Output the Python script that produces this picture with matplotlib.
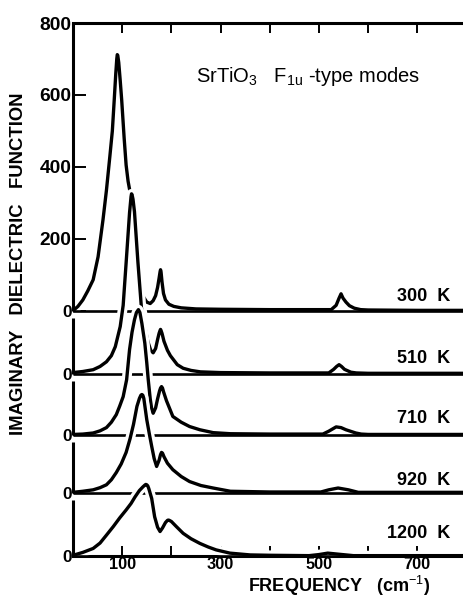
import matplotlib
matplotlib.use("Agg")
import matplotlib.pyplot as plt

plt.rcParams['font.family'] = ['Liberation Sans', 'DejaVu Sans']
plt.rcParams['mathtext.fontset'] = 'custom'
plt.rcParams['mathtext.rm'] = 'Liberation Sans'
plt.rcParams['mathtext.it'] = 'Liberation Sans:italic'
plt.rcParams['mathtext.bf'] = 'Liberation Sans:bold'

# spectra: frequency (cm-1) vs imaginary dielectric function
temps = ['300  K', '510  K', '710  K', '920  K', '1200  K']

freq_300 = [0, 10, 20, 30, 41, 51, 61, 68, 75, 80, 84, 87, 89, 90, 91, 93, 96, 99, 104, 108, 112, 116,
            120, 125, 130, 135, 139, 143, 150, 157, 163, 168, 172, 175, 177, 178, 179, 181, 184, 188, 195,
            205, 220, 250, 300, 400, 500, 525, 535, 541, 545, 549, 555, 562, 572, 585, 600, 700, 800]
eps_300 = [0, 12, 30, 55, 86, 150, 253, 335, 430, 500, 590, 660, 700, 712, 710, 690, 640, 586, 480, 405, 360, 330,
           275, 200, 125, 70, 48, 39, 24, 20, 28, 42, 65, 90, 108, 114, 108, 80, 48, 30, 18,
           12, 8, 5, 4, 3, 3, 3, 15, 35, 47, 35, 24, 14, 7, 3, 2, 1, 1]

freq_510 = [0, 20, 41, 55, 68, 78, 86, 96, 102, 108, 115, 118, 119, 120, 122, 125, 132, 139, 146, 152, 158,
            163, 168, 172, 175, 177, 178, 179, 181, 185, 192, 198, 212, 224, 240, 259, 300, 400, 500, 520,
            530, 536, 541, 546, 552, 565, 576, 600, 700, 800]
eps_510 = [3, 6, 11, 20, 33, 50, 75, 131, 190, 308, 448, 492, 500, 498, 485, 450, 310, 185, 130, 90, 65,
           58, 70, 95, 112, 120, 123, 120, 112, 90, 65, 50, 25, 15, 9, 5, 3, 2, 2, 2,
           12, 20, 25, 20, 12, 4, 2, 1, 1, 1]

freq_710 = [0, 20, 41, 55, 68, 78, 88, 95, 102, 109, 115, 120, 125, 129, 133, 136, 140, 146, 150,
            153, 157, 160, 163, 168, 172, 176, 178, 180, 182, 184, 190, 203, 220, 237, 258, 285, 320, 400,
            500, 508, 520, 535, 545, 555, 575, 586, 600, 700, 800]
eps_710 = [1, 2, 5, 11, 20, 35, 56, 80, 106, 153, 237, 285, 320, 340, 348, 340, 310, 255, 200,
           153, 100, 72, 60, 75, 100, 122, 130, 134, 130, 120, 95, 51, 35, 23, 14, 6, 3, 2,
           2, 2, 10, 22, 20, 14, 5, 2, 1, 1, 1]

freq_920 = [0, 20, 41, 55, 68, 78, 88, 98, 108, 116, 123, 130, 135, 138, 140, 142, 144, 150, 155, 160, 165,
            170, 175, 178, 180, 182, 185, 192, 203, 220, 237, 260, 285, 320, 400, 500, 504, 520, 539, 560,
            580, 600, 700, 800]
eps_920 = [1, 4, 8, 14, 22, 36, 56, 80, 112, 150, 190, 240, 262, 271, 273, 271, 262, 203, 165, 129, 95,
           73, 90, 106, 112, 110, 100, 82, 64, 45, 31, 20, 13, 4, 2, 2, 2, 8, 13, 8,
           1, 1, 1, 1]

freq_1200 = [0, 20, 41, 55, 68, 82, 95, 108, 118, 126, 135, 142, 146, 148, 150, 152, 154, 160, 166, 172, 177,
             182, 188, 192, 194, 196, 200, 210, 224, 240, 258, 275, 291, 319, 360, 400, 480, 500, 518, 540,
             570, 600, 700, 800]
eps_1200 = [2, 10, 21, 36, 58, 82, 106, 128, 146, 164, 182, 192, 197, 199, 198, 195, 188, 160, 109, 80, 68,
            78, 93, 99, 100, 99, 96, 82, 63, 48, 35, 25, 17, 8, 3, 2, 1, 4, 8, 5,
            1, 1, 1, 1]

freqs = [freq_300, freq_510, freq_710, freq_920, freq_1200]
eps = [eps_300, eps_510, eps_710, eps_920, eps_1200]

# layout of the stack (vertical shift of each trace, in units of the top scale)
offsets = [0, -175, -345, -506, -682]
label_lift = [17, 19, 22, 10, 38]

fig = plt.figure(figsize=(4.64, 6.04), dpi=100)
ax = fig.add_axes([73 / 464, 1 - 556 / 604, 1 - 73 / 464, (556 - 23) / 604])
ax.set_xlim(0, 795)
ax.set_ylim(offsets[-1], 800)

for i, (f, e) in enumerate(zip(freqs, eps)):
    off = offsets[i]
    z = 3 + 3 * i
    y = [v + off for v in e]
    # white margin round each trace breaks the lines behind it, as in the print
    ax.plot(f, y, color='white', lw=7, zorder=z, solid_capstyle='butt')
    ax.hlines(off, 0, 800, color='black', lw=1.9, zorder=z + 1)
    ax.plot(f, y, color='black', lw=2.4, zorder=z + 2, solid_joinstyle='round')
    ax.text(767, off + label_lift[i], temps[i], ha='right', va='bottom',
            fontsize=13, fontweight='bold', zorder=30)

# broken left axis: one segment per trace
ax.vlines(0, 0, 800, color='black', lw=2.2, zorder=40, clip_on=False)
for i in range(1, len(offsets)):
    top = offsets[i - 1] - offsets[i] - 20
    ax.vlines(0, offsets[i], offsets[i] + top, color='black', lw=2.2, zorder=40, clip_on=False)

for s in ['left', 'right']:
    ax.spines[s].set_visible(False)
ax.spines['top'].set_linewidth(2.2)
ax.spines['bottom'].set_linewidth(2.2)

ax.set_xticks(range(100, 800, 100), ['100', '', '300', '', '500', '', '700'])
ax.tick_params(axis='x', direction='in', length=7, width=1.4, top=True, bottom=True,
               labelsize=11.8, pad=1)

yt = offsets[::-1] + [200, 400, 600, 800]
yl = ['0'] * len(offsets) + ['200', '400', '600', '800']
ax.set_yticks(yt, yl)
ax.tick_params(axis='y', direction='in', length=9, width=1.4, left=True, right=False,
               labelsize=13.8, pad=1)
for lbl in ax.get_xticklabels() + ax.get_yticklabels():
    lbl.set_fontweight('bold')
for lbl in ax.get_yticklabels():
    if lbl.get_text() == '0':
        lbl.set_fontsize(12.5)

ax.text(250, 637, r'SrTiO$_3$   F$_{\mathrm{1u}}$ -type modes', fontsize=14.5, ha='left', va='baseline')

fig.text(0.730, 1 - 592 / 604, r'FREQUENCY   (cm$^{-1}$)', ha='center', va='baseline',
         fontsize=13, fontweight='bold')
fig.text(0.039, 0.563, 'IMAGINARY   DIELECTRIC   FUNCTION', ha='center', va='center',
         rotation=90, fontsize=13.3, fontweight='bold')

fig.savefig('out.png', dpi=100)
